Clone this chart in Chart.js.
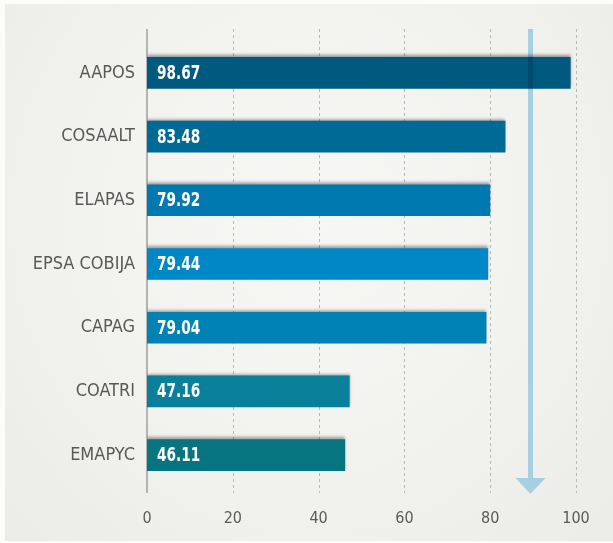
<!DOCTYPE html>
<html>
<head>
<meta charset="utf-8">
<script src="https://cdn.jsdelivr.net/npm/chart.js@4.4.1/dist/chart.umd.min.js"></script>
<style>
  html,body{margin:0;padding:0;background:#fcfcfb;}
  #panel{position:absolute;left:5px;top:4px;width:608px;height:537px;
    background:radial-gradient(ellipse at 50% 40%,#f7f7f5 0%,#f1f1ee 60%,#ebebe7 100%);}
  #wrap{position:absolute;left:0;top:0;width:613px;height:543px;}
</style>
</head>
<body>
<div id="panel"></div>
<div id="wrap"><canvas id="c" width="613" height="543"></canvas></div>
<script>
// data
const categories = ['AAPOS', 'COSAALT', 'ELAPAS', 'EPSA COBIJA', 'CAPAG', 'COATRI', 'EMAPYC'];
const values = [98.67, 83.48, 79.92, 79.44, 79.04, 47.16, 46.11];
const xTicks = [0, 20, 40, 60, 80, 100];
const arrowAt = 89.4;

const barColors = ['#005a7f', '#006a96', '#0078b0', '#0088c6', '#0082b5', '#0a7f9a', '#077580'];
const NARROW = "'Liberation Sans Narrow','DejaVu Sans Condensed',sans-serif";

// ── dashed grid + axis line, drawn a bit taller than the category band ──
const gridPlugin = {
  id: 'gridLines',
  beforeDatasetsDraw(chart) {
    const { ctx, chartArea: { top, bottom }, scales: { x } } = chart;
    const y0 = top - 12, y1 = bottom + 6;
    ctx.save();
    ctx.strokeStyle = '#b9b9b6';
    ctx.lineWidth = 1;
    ctx.setLineDash([3, 3]);
    xTicks.slice(1).forEach(v => {
      const px = Math.round(x.getPixelForValue(v)) + 0.5;
      ctx.beginPath(); ctx.moveTo(px, y0); ctx.lineTo(px, y1); ctx.stroke();
    });
    ctx.setLineDash([]);
    ctx.strokeStyle = '#b3b3b0';
    ctx.lineWidth = 2;
    const px0 = x.getPixelForValue(0);
    ctx.beginPath(); ctx.moveTo(px0, y0); ctx.lineTo(px0, y1); ctx.stroke();
    ctx.restore();
  }
};

// ── soft shadow on top of each bar ──
const shadowPlugin = {
  id: 'barShadow',
  beforeDatasetDraw(chart) {
    const ctx = chart.ctx;
    ctx.save();
    ctx.shadowColor = 'rgba(0,0,0,0.4)';
    ctx.shadowBlur = 3;
    ctx.shadowOffsetX = 0;
    ctx.shadowOffsetY = -2;
  },
  afterDatasetDraw(chart) { chart.ctx.restore(); }
};

// ── value labels inside bars + the arrow ──
const overlayPlugin = {
  id: 'overlay',
  afterDatasetsDraw(chart) {
    const { ctx, chartArea: { top, bottom }, scales: { x } } = chart;
    const meta = chart.getDatasetMeta(0);
    const sx = 0.8;
    ctx.save();
    ctx.fillStyle = '#ffffff';
    ctx.font = 'bold 19px ' + NARROW;
    ctx.textAlign = 'left';
    ctx.textBaseline = 'middle';
    ctx.scale(sx, 1);
    meta.data.forEach((bar, i) => {
      ctx.fillText(values[i].toFixed(2), (x.getPixelForValue(0) + 10) / sx, bar.y + 1);
    });
    ctx.restore();

    const ax = x.getPixelForValue(arrowAt);
    const headTop = bottom - 9, headBot = bottom + 7;
    ctx.save();
    ctx.globalCompositeOperation = 'multiply';
    ctx.fillStyle = '#a6cfe1';
    ctx.fillRect(ax - 2.5, top - 12, 5, headTop - (top - 12));
    ctx.beginPath();
    ctx.moveTo(ax - 15, headTop);
    ctx.lineTo(ax + 15, headTop);
    ctx.lineTo(ax, headBot);
    ctx.closePath();
    ctx.fill();
    ctx.restore();
  }
};

new Chart(document.getElementById('c'), {
  type: 'bar',
  data: {
    labels: categories,
    datasets: [{
      data: values,
      backgroundColor: barColors,
      borderWidth: 0,
      barThickness: 31
    }]
  },
  options: {
    indexAxis: 'y',
    responsive: false,
    animation: false,
    layout: { padding: { left: 0, right: 37, top: 41, bottom: 0 } },
    plugins: { legend: { display: false }, tooltip: { enabled: false } },
    scales: {
      x: {
        min: 0, max: 100,
        grid: { display: false, drawTicks: false },
        border: { display: false },
        afterBuildTicks(s) { s.ticks = xTicks.map(v => ({ value: v })); },
        afterFit(s) { s.height = 56; },
        ticks: { color: '#5a5a5a', padding: 22, maxRotation: 0, font: { size: 16, family: NARROW } }
      },
      y: {
        grid: { display: false, drawTicks: false },
        border: { display: false },
        afterFit(s) { s.width = 147; },
        ticks: { color: '#585858', padding: 12, font: { size: 18, family: NARROW } }
      }
    }
  },
  plugins: [gridPlugin, shadowPlugin, overlayPlugin]
});
</script>
</body>
</html>
